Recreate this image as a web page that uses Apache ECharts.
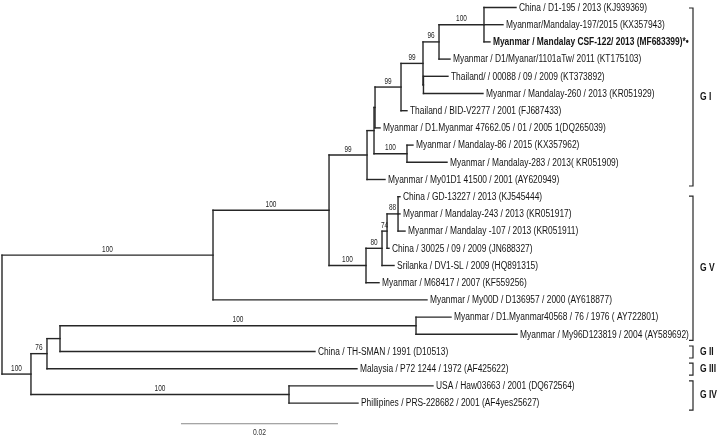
<!DOCTYPE html>
<html><head><meta charset="utf-8">
<script src="https://cdn.jsdelivr.net/npm/echarts/dist/echarts.min.js"></script>
<style>html,body{margin:0;padding:0;background:#fff}#c{width:717px;height:436px}</style>
</head><body><div id="c"></div>
<script>
// ---- DATA ----
const taxa = [
  'China / D1-195 / 2013 (KJ939369)',
  'Myanmar/Mandalay-197/2015 (KX357943)',
  'Myanmar / Mandalay CSF-122/ 2013 (MF683399)*\u2022',
  'Myanmar / D1/Myanar/1101aTw/ 2011 (KT175103)',
  'Thailand/ / 00088 / 09 / 2009 (KT373892)',
  'Myanmar / Mandalay-260 / 2013 (KR051929)',
  'Thailand / BID-V2277 / 2001 (FJ687433)',
  'Myanmar / D1.Myanmar 47662.05 / 01 / 2005 1(DQ265039)',
  'Myanmar / Mandalay-86 / 2015 (KX357962)',
  'Myanmar / Mandalay-283 / 2013( KR051909)',
  'Myanmar / My01D1 41500 / 2001 (AY620949)',
  'China / GD-13227 / 2013 (KJ545444)',
  'Myanmar / Mandalay-243 / 2013 (KR051917)',
  'Myanmar / Mandalay -107 / 2013 (KR051911)',
  'China / 30025 / 09 / 2009 (JN688327)',
  'Srilanka / DV1-SL / 2009 (HQ891315)',
  'Myanmar / M68417 / 2007 (KF559256)',
  'Myanmar / My00D / D136957 / 2000 (AY618877)',
  'Myanmar / D1.Myanmar40568 / 76 / 1976 ( AY722801)',
  'Myanmar / My96D123819 / 2004 (AY589692)',
  'China / TH-SMAN / 1991 (D10513)',
  'Malaysia / P72 1244 / 1972 (AF425622)',
  'USA / Haw03663 / 2001 (DQ672564)',
  'Phillipines / PRS-228682 / 2001 (AF4yes25627)'
];
const boldTaxa = [2];
// parent internal node of each taxon, and its branch length (substitutions/site)
const taxonParent = [10,10,10,9,8,8,6,5,11,11,3,15,15,15,14,13,12,1,19,19,18,17,20,20];
const taxonLength = [0.00408,0.00242,0.00076,0.00140,0.00312,0.00758,0.00076,0.00064,0.00076,0.00510,0.00229,
                     0.00025,0.00025,0.00089,0.00025,0.00153,0.00166,0.02726,0.00446,0.01287,0.03248,0.03949,0.01834,0.00879];
// internal nodes (0 = root)
const nodeParent = [-1,0,1,2,3,4,5,6,7,7,9,4,2,12,13,14,0,16,17,18,16];
const nodeLength = [0,0.02688,0.01478,0.00484,0.00089,0.00013,0.00331,0.00280,0.00006,0.00204,0.00573,0.00420,
                    0.00471,0.00204,0.00064,0.00140,0.00369,0.00204,0.00166,0.04535,0.03287];
const bootstrap  = ['', '100','100','99','','','99','99','','96','100','100','100','80','74','88','100','76','','100','100'];
const cladeNames = ['G I','G V','G II','G III','G IV'];
const cladeFirst = [0,11,20,21,22];
const cladeLast  = [10,19,20,21,23];
const scaleBarValue = 0.02;
const scaleBarLabel = '0.02';

// ---- LAYOUT ----
const nN = nodeParent.length;
const depth = new Array(nN).fill(0), ny = new Array(nN).fill(0);
for (let i = 1; i < nN; i++) depth[i] = depth[nodeParent[i]] + nodeLength[i];
const tDepth = taxa.map((_, i) => depth[taxonParent[i]] + taxonLength[i]);
const kids = Array.from({length: nN}, () => []);
taxa.forEach((_, i) => kids[taxonParent[i]].push(i));
const childYs = i => {
  const ys = kids[i].slice();
  for (let j = i + 1; j < nN; j++) if (nodeParent[j] === i) ys.push(ny[j]);
  return ys;
};
for (let i = nN - 1; i >= 0; i--) {
  const ys = childYs(i);
  ny[i] = (Math.min(...ys) + Math.max(...ys)) / 2;
}
const segs = [];
taxa.forEach((_, i) => segs.push([depth[taxonParent[i]], i, tDepth[i], i]));
for (let i = 1; i < nN; i++) segs.push([depth[nodeParent[i]], ny[i], depth[i], ny[i]]);
for (let i = 0; i < nN; i++) {
  const ys = childYs(i);
  segs.push([depth[i], Math.min(...ys), depth[i], Math.max(...ys)]);
}
const bootData = [];
for (let i = 1; i < nN; i++) if (bootstrap[i]) bootData.push([(depth[nodeParent[i]] + depth[i]) / 2, ny[i], i]);
const taxData = taxa.map((_, i) => [tDepth[i], i, i]);
const cladeData = cladeNames.map((_, i) => [cladeFirst[i], cladeLast[i], i]);

const FONT = '"Liberation Sans", Arial, Helvetica, sans-serif';
const LINE = '#262626';
const BRACKET_X = 693, SCALE_X0 = 0.0228, SCALE_Y = 24.2;
const BRACKET_TOP_PAD = [0.5, -0.5, -5.5, -5.5, -5];
const BRACKET_BOT_PAD = [6.5, 6, 6.5, 6.5, 7];

const chart = echarts.init(document.getElementById('c'), null, {renderer: 'canvas'});
chart.setOption({
  animation: false,
  grid: {left: 2, right: 8.5, top: 7.5, bottom: 32.9},
  xAxis: {type: 'value', min: 0, max: 0.09, show: false},
  yAxis: {type: 'value', min: 0, max: 23, inverse: true, show: false},
  series: [
    {
      type: 'custom', data: segs, clip: false,
      renderItem: (p, api) => {
        const a = api.coord([api.value(0), api.value(1)]), b = api.coord([api.value(2), api.value(3)]);
        return {type: 'line', shape: {x1: a[0], y1: a[1], x2: b[0], y2: b[1]},
          style: {stroke: LINE, lineWidth: 1.4, lineCap: 'square'}};
      }
    },
    {
      type: 'custom', data: taxData, clip: false,
      renderItem: (p, api) => {
        const i = api.value(2), c = api.coord([api.value(0), api.value(1)]);
        const bold = boldTaxa.indexOf(i) >= 0;
        return {type: 'text', x: c[0] + 3, y: c[1] + 0.5, scaleX: 0.84,
          style: {x: 0, y: 0, text: taxa[i], font: (bold ? 'bold ' : '') + '10px ' + FONT,
            fill: '#141414', align: 'left', verticalAlign: 'middle', textAlign: 'left', textVerticalAlign: 'middle'}};
      }
    },
    {
      type: 'custom', data: bootData, clip: false,
      renderItem: (p, api) => {
        const i = api.value(2), c = api.coord([api.value(0), api.value(1)]);
        return {type: 'text', x: c[0], y: c[1] - 1.5, scaleX: 0.72,
          style: {x: 0, y: 0, text: bootstrap[i], font: '9px ' + FONT, fill: '#1e1e1e',
            align: 'center', verticalAlign: 'bottom', textAlign: 'center', textVerticalAlign: 'bottom'}};
      }
    },
    {
      type: 'custom', data: cladeData, clip: false,
      renderItem: (p, api) => {
        const i = api.value(2);
        const t = api.coord([0, api.value(0)])[1] + BRACKET_TOP_PAD[i];
        const b = api.coord([0, api.value(1)])[1] + BRACKET_BOT_PAD[i];
        const x = BRACKET_X;
        return {type: 'group', children: [
          {type: 'polyline', shape: {points: [[x - 4, t], [x, t], [x, b], [x - 4, b]]},
            style: {stroke: LINE, lineWidth: 1.2, fill: null}},
          {type: 'text', x: x + 7, y: (t + b) / 2, scaleX: 0.85,
            style: {x: 0, y: 0, text: cladeNames[i], font: 'bold 10px ' + FONT, fill: '#141414',
              align: 'left', verticalAlign: 'middle', textAlign: 'left', textVerticalAlign: 'middle'}}
        ]};
      }
    },
    {
      type: 'custom', data: [[SCALE_X0, SCALE_Y, scaleBarValue]], clip: false,
      renderItem: (p, api) => {
        const a = api.coord([api.value(0), api.value(1)]), b = api.coord([api.value(0) + api.value(2), api.value(1)]);
        return {type: 'group', children: [
          {type: 'line', shape: {x1: a[0], y1: a[1], x2: b[0], y2: b[1]}, style: {stroke: '#8a8a8a', lineWidth: 1}},
          {type: 'text', x: (a[0] + b[0]) / 2, y: a[1] + 4, scaleX: 0.75,
            style: {x: 0, y: 0, text: scaleBarLabel, font: '9px ' + FONT, fill: '#333',
              align: 'center', verticalAlign: 'top', textAlign: 'center', textVerticalAlign: 'top'}}
        ]};
      }
    }
  ]
});
</script></body></html>
